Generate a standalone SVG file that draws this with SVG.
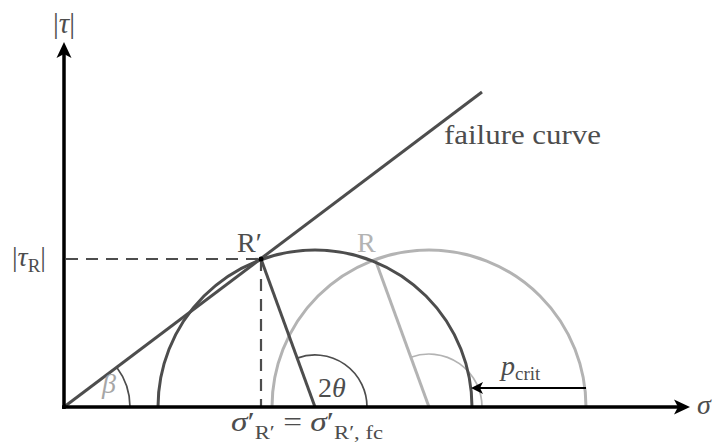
<svg xmlns="http://www.w3.org/2000/svg" width="716" height="445" viewBox="0 0 716 445">
<style>
  .t { font-family: "Liberation Serif", "Times New Roman", serif; fill: #4d4d4d; }
  .it { font-style: italic; }
  .dk { stroke: #4d4d4d; fill: none; stroke-width: 3; }
  .lt { stroke: #b3b3b3; fill: none; stroke-width: 3; }
  .arc-dk { stroke: #4d4d4d; fill: none; stroke-width: 1.7; }
  .arc-lt { stroke: #b3b3b3; fill: none; stroke-width: 1.7; }
  .dash { stroke: #4d4d4d; fill: none; stroke-width: 2.2; stroke-dasharray: 12 8; }
  .axis { stroke: #000; fill: none; stroke-width: 3.5; }
  .head { fill: #000; stroke: none; }
</style>
<rect width="716" height="445" fill="#fff"/>

<g id="circle-R">
  <path class="lt" d="M 272 407 A 157 157 0 0 1 586 407"/>
  <line class="lt" x1="375" y1="259" x2="429" y2="407"/>
  <path class="arc-lt" d="M 482 407 A 53 53 0 0 0 410.9 357.2"/>
</g>

<g id="circle-Rprime">
  <path class="dk" d="M 158 407 A 157 157 0 0 1 472 407"/>
  <line class="dk" x1="261" y1="259" x2="315" y2="407"/>
  <path class="arc-dk" d="M 367 407 A 52 52 0 0 0 297.2 358.1"/>
</g>

<g id="connectors">
  <line class="dk" x1="64" y1="407" x2="482" y2="92"/>
  <path class="arc-dk" d="M 130 407 A 66 66 0 0 0 116.7 367.3"/>
  <line class="dash" x1="66" y1="259" x2="261" y2="259"/>
  <line class="dash" x1="261" y1="259" x2="261" y2="407"/>
  <line stroke="#000" stroke-width="2.2" x1="586" y1="388" x2="478" y2="388"/>
  <path class="head" d="M 471 388 L 483 382 L 480 388 L 483 394 Z"/>
</g>

<g id="axes">
  <line class="axis" x1="64" y1="409" x2="64" y2="52"/>
  <path class="head" d="M 64 42 L 71.5 58 L 64 54 L 56.5 58 Z"/>
  <line class="axis" x1="62" y1="407" x2="680" y2="407"/>
  <path class="head" d="M 690 407 L 674 399.5 L 678 407 L 674 414.5 Z"/>
</g>

<g id="point-Rprime">
  <circle cx="261" cy="259" r="2.5" fill="#000"/>
  <text class="t" x="237" y="252" font-size="28">R′</text>
</g>
<g id="point-R">
  <text class="t" x="357" y="252" font-size="28" style="fill:#b3b3b3">R</text>
</g>

<g id="labels">
  <text class="t" x="64" y="33" font-size="29" text-anchor="middle">|<tspan class="it">τ</tspan>|</text>
  <text class="t" x="12" y="266" font-size="28">|<tspan class="it">τ</tspan><tspan font-size="19" dy="6">R</tspan><tspan dy="-6">|</tspan></text>
  <text class="t" x="444" y="144" font-size="28" textLength="157" lengthAdjust="spacingAndGlyphs">failure curve</text>
  <text class="t" x="318" y="397" font-size="28">2<tspan class="it">θ</tspan></text>
  <text class="t it" x="102" y="393" font-size="28" style="fill:#a6a6a6">β</text>
  <text class="t" x="501" y="375" font-size="28"><tspan class="it">p</tspan><tspan font-size="19" dy="5">crit</tspan></text>
  <text class="t it" x="697" y="414" font-size="28">σ</text>
  <text class="t" x="231" y="431" font-size="28" textLength="152" lengthAdjust="spacingAndGlyphs"><tspan class="it">σ</tspan>′<tspan font-size="19" dy="8">R′</tspan><tspan dy="-8"> = </tspan><tspan class="it">σ</tspan>′<tspan font-size="19" dy="8">R′, fc</tspan></text>
</g>
</svg>
